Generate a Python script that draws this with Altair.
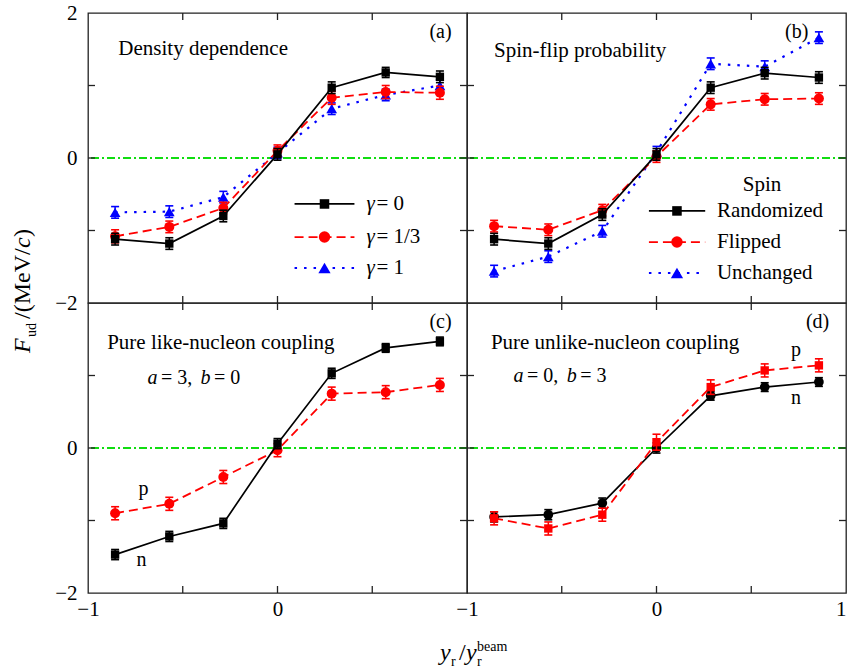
import altair as alt
import pandas as pd

FONT = "Liberation Serif"
FRAME = "#222222"
GREEN = "#11dd11"
W, H = 379, 290
TICK = 7

# ---------------- data ----------------
x_vals = [-0.857, -0.571, -0.286, 0.0, 0.286, 0.571, 0.857]

# (a) density dependence
a_gamma0 = [-1.12, -1.18, -0.80, 0.05, 0.97, 1.18, 1.12]
a_gamma0_err = [0.08, 0.08, 0.08, 0.08, 0.08, 0.07, 0.08]
a_gamma13 = [-1.08, -0.95, -0.69, 0.10, 0.83, 0.91, 0.90]
a_gamma13_err = [0.09, 0.08, 0.08, 0.08, 0.09, 0.09, 0.09]
a_gamma1 = [-0.75, -0.74, -0.54, 0.07, 0.68, 0.87, 1.00]
a_gamma1_err = [0.08, 0.08, 0.08, 0.08, 0.08, 0.08, 0.08]

# (b) spin-flip probability
b_randomized = [-1.12, -1.18, -0.78, 0.05, 0.97, 1.17, 1.11]
b_randomized_err = [0.08, 0.08, 0.08, 0.08, 0.08, 0.08, 0.08]
b_flipped = [-0.94, -0.99, -0.72, 0.02, 0.74, 0.81, 0.82]
b_flipped_err = [0.08, 0.08, 0.08, 0.08, 0.08, 0.08, 0.08]
b_unchanged = [-1.56, -1.36, -1.01, 0.08, 1.30, 1.26, 1.66]
b_unchanged_err = [0.08, 0.08, 0.08, 0.08, 0.08, 0.08, 0.08]

# (c) pure like-nucleon coupling
c_n = [-1.47, -1.22, -1.04, 0.06, 1.03, 1.38, 1.47]
c_n_err = [0.07, 0.07, 0.07, 0.07, 0.07, 0.06, 0.06]
c_p = [-0.90, -0.77, -0.40, -0.03, 0.75, 0.77, 0.87]
c_p_err = [0.09, 0.09, 0.09, 0.09, 0.09, 0.09, 0.09]

# (d) pure unlike-nucleon coupling
d_n = [-0.95, -0.92, -0.76, 0.00, 0.72, 0.84, 0.91]
d_n_err = [0.07, 0.07, 0.07, 0.07, 0.06, 0.06, 0.06]
d_p = [-0.97, -1.11, -0.92, 0.08, 0.84, 1.07, 1.14]
d_p_err = [0.09, 0.09, 0.09, 0.11, 0.10, 0.09, 0.09]

x_ticks = [-0.5, 0.0, 0.5]
y_ticks = [-1, 0, 1]

STYLES = {
    "k_sq": dict(color="#000000", dash=None, shape="square", size=70, lw=1.7),
    "k_ci": dict(color="#000000", dash=None, shape="circle", size=95, lw=1.7),
    "r_ci": dict(color="#ff0000", dash=[9, 5], shape="circle", size=100, lw=1.8),
    "r_sq": dict(color="#ff0000", dash=[9, 5], shape="square", size=70, lw=1.8),
    "b_tri": dict(color="#0000ff", dash=[2.5, 7], shape="triangle-up", size=115, lw=2.2),
}

SERIES = {
    "a": [(a_gamma1, a_gamma1_err, "b_tri"), (a_gamma13, a_gamma13_err, "r_ci"), (a_gamma0, a_gamma0_err, "k_sq")],
    "b": [(b_unchanged, b_unchanged_err, "b_tri"), (b_flipped, b_flipped_err, "r_ci"), (b_randomized, b_randomized_err, "k_sq")],
    "c": [(c_p, c_p_err, "r_ci"), (c_n, c_n_err, "k_sq")],
    "d": [(d_n, d_n_err, "k_ci"), (d_p, d_p_err, "r_sq")],
}

# annotations in data coordinates: (x, y, text, size, italic, align, baseline)
ANNOT = {
    "a": [(-0.84, 1.42, "Density dependence", 21, False, "left", "alphabetic"),
          (0.86, 1.74, "(a)", 20, False, "center", "middle")],
    "b": [(-0.857, 1.39, "Spin-flip probability", 21, False, "left", "alphabetic"),
          (0.74, 1.74, "(b)", 20, False, "center", "middle"),
          (0.557, -0.37, "Spin", 21, False, "center", "middle")],
    "c": [(-0.899, 1.37, "Pure like-nucleon coupling", 21, False, "left", "alphabetic"),
          (0.86, 1.74, "(c)", 20, False, "center", "middle"),
          (-0.686, 0.88, "a", 20, True, "left", "alphabetic"),
          (-0.615, 0.88, "= 3,", 20, False, "left", "alphabetic"),
          (-0.406, 0.88, "b", 20, True, "left", "alphabetic"),
          (-0.335, 0.88, "= 0", 20, False, "left", "alphabetic"),
          (-0.707, -0.65, "p", 20, False, "center", "alphabetic"),
          (-0.718, -1.63, "n", 20, False, "center", "alphabetic")],
    "d": [(-0.874, 1.37, "Pure unlike-nucleon coupling", 21, False, "left", "alphabetic"),
          (0.85, 1.74, "(d)", 20, False, "center", "middle"),
          (-0.754, 0.906, "a", 20, True, "left", "alphabetic"),
          (-0.683, 0.906, "= 0,", 20, False, "left", "alphabetic"),
          (-0.474, 0.906, "b", 20, True, "left", "alphabetic"),
          (-0.403, 0.906, "= 3", 20, False, "left", "alphabetic"),
          (0.736, 1.27, "p", 20, False, "center", "alphabetic"),
          (0.736, 0.61, "n", 20, False, "center", "alphabetic")],
}

# legends: rows (y, style, italic part, regular part)
LEGEND = {
    "a": dict(x1=0.09, x2=0.406, xm=0.248, xt1=0.47, xt2=0.522,
              rows=[(-0.634, "k_sq", "γ", "= 0"), (-1.09, "r_ci", "γ", "= 1/3"), (-1.517, "b_tri", "γ", "= 1")]),
    "b": dict(x1=-0.04, x2=0.257, xm=0.108, xt1=None, xt2=0.319,
              rows=[(-0.73, "k_sq", None, "Randomized"), (-1.159, "r_ci", None, "Flipped"), (-1.586, "b_tri", None, "Unchanged")]),
}

XS = alt.Scale(domain=[-1, 1], nice=False, zero=False)
YS = alt.Scale(domain=[-2, 2], nice=False, zero=False)
MINUS = "datum.value < 0 ? '\u2212' + (-datum.value) : '' + datum.value"


def y_axis(values):
    return alt.Axis(values=values, title=None, ticks=False, domain=False, grid=False,
                    labelFont=FONT, labelFontSize=21, labelColor="black", labelPadding=11,
                    labelExpr=MINUS, labelOverlap=False, labelFlush=False)


def x_axis(values, right_flush=False):
    kw = {}
    if right_flush:
        kw["labelAlign"] = {"condition": {"test": "datum.value === 1", "value": "right"}, "value": "center"}
    return alt.Axis(values=values, title=None, ticks=False, domain=False, grid=False,
                    labelFont=FONT, labelFontSize=21, labelColor="black", labelPadding=5,
                    labelExpr=MINUS, labelOverlap=False, labelFlush=False, **kw)


def text_piece(x, y, text, size, italic, align, baseline, xaxis, yaxis):
    df = pd.DataFrame({"x": [x], "y": [y], "t": [text]})
    kw = dict(font=FONT, fontSize=size, align=align, baseline=baseline, color="black")
    if italic:
        kw["fontStyle"] = "italic"
    return alt.Chart(df).mark_text(**kw).encode(
        x=alt.X("x:Q", scale=XS, axis=xaxis), y=alt.Y("y:Q", scale=YS, axis=yaxis), text="t:N")


def px_text(px, py, text, size, italic=False, angle=0):
    df = pd.DataFrame({"t": [text]})
    kw = dict(font=FONT, fontSize=size, align="left", baseline="alphabetic", color="black")
    if italic:
        kw["fontStyle"] = "italic"
    if angle:
        kw["angle"] = angle
    return alt.Chart(df).mark_text(**kw).encode(x=alt.value(px), y=alt.value(py), text="t:N")


def series_layers(yv, err, style, xaxis, yaxis):
    st = STYLES[style]
    df = pd.DataFrame({"x": x_vals, "y": yv, "lo": [v - e for v, e in zip(yv, err)],
                       "hi": [v + e for v, e in zip(yv, err)]})
    base = alt.Chart(df)
    X = alt.X("x:Q", scale=XS, axis=xaxis)
    lkw = dict(color=st["color"], strokeWidth=st["lw"])
    if st["dash"]:
        lkw["strokeDash"] = st["dash"]
    line = base.mark_line(**lkw).encode(x=X, y=alt.Y("y:Q", scale=YS, axis=yaxis))
    bar = base.mark_rule(color=st["color"], strokeWidth=1.5).encode(
        x=X, y=alt.Y("lo:Q", scale=YS, axis=yaxis), y2="hi:Q")
    cap_lo = base.mark_tick(color=st["color"], orient="horizontal", size=8, thickness=1.6, opacity=1).encode(
        x=X, y=alt.Y("lo:Q", scale=YS, axis=yaxis))
    cap_hi = base.mark_tick(color=st["color"], orient="horizontal", size=8, thickness=1.6, opacity=1).encode(
        x=X, y=alt.Y("hi:Q", scale=YS, axis=yaxis))
    pts = base.mark_point(shape=st["shape"], filled=True, size=st["size"], color=st["color"], opacity=1).encode(
        x=X, y=alt.Y("y:Q", scale=YS, axis=yaxis))
    return [line, bar, cap_lo, cap_hi, pts]


def legend_layers(spec, xaxis, yaxis):
    out = []
    for (yy, style, ital, reg) in spec["rows"]:
        st = STYLES[style]
        df = pd.DataFrame({"x1": [spec["x1"]], "x2": [spec["x2"]], "xm": [spec["xm"]], "y": [yy]})
        lkw = dict(color=st["color"], strokeWidth=st["lw"])
        if st["dash"]:
            lkw["strokeDash"] = st["dash"]
        out.append(alt.Chart(df).mark_rule(**lkw).encode(
            x=alt.X("x1:Q", scale=XS, axis=xaxis), x2="x2:Q", y=alt.Y("y:Q", scale=YS, axis=yaxis)))
        out.append(alt.Chart(df).mark_point(shape=st["shape"], filled=True, size=st["size"] * 1.3,
                                            color=st["color"], opacity=1).encode(
            x=alt.X("xm:Q", scale=XS, axis=xaxis), y=alt.Y("y:Q", scale=YS, axis=yaxis)))
        if ital:
            out.append(text_piece(spec["xt1"], yy, ital, 21, True, "left", "middle", xaxis, yaxis))
        out.append(text_piece(spec["xt2"], yy, reg, 21, False, "left", "middle", xaxis, yaxis))
    return out


def panel(pid, xaxis, yaxis, extra=()):
    layers = []
    zero = alt.Chart(pd.DataFrame({"z": [0]})).mark_rule(
        color=GREEN, strokeWidth=2, strokeDash=[8, 3, 2, 3]).encode(y=alt.Y("z:Q", scale=YS, axis=yaxis))
    layers.append(zero)
    tx = alt.Chart(pd.DataFrame({"t": x_ticks}))
    ty = alt.Chart(pd.DataFrame({"t": y_ticks}))
    TX = alt.X("t:Q", scale=XS, axis=xaxis)
    TY = alt.Y("t:Q", scale=YS, axis=yaxis)
    layers.append(tx.mark_rule(color=FRAME, strokeWidth=1.3).encode(x=TX, y=alt.value(0), y2=alt.value(TICK)))
    layers.append(tx.mark_rule(color=FRAME, strokeWidth=1.3).encode(x=TX, y=alt.value(H), y2=alt.value(H - TICK)))
    layers.append(ty.mark_rule(color=FRAME, strokeWidth=1.3).encode(y=TY, x=alt.value(0), x2=alt.value(TICK)))
    layers.append(ty.mark_rule(color=FRAME, strokeWidth=1.3).encode(y=TY, x=alt.value(W - TICK), x2=alt.value(W)))
    for (yv, err, style) in SERIES[pid]:
        layers += series_layers(yv, err, style, xaxis, yaxis)
    for a in ANNOT[pid]:
        layers.append(text_piece(*a, xaxis, yaxis))
    if pid in LEGEND:
        layers += legend_layers(LEGEND[pid], xaxis, yaxis)
    layers += list(extra)
    return alt.layer(*layers).properties(width=W, height=H)


# y-axis title pieces (rotated), relative to panel (a) origin
ytitle = [
    px_text(-58, 340, "F", 24, italic=True, angle=270),
    px_text(-52, 324, "ud", 14, angle=270),
    px_text(-58, 306, "/(MeV/", 24, angle=270),
    px_text(-58, 235, "c", 24, italic=True, angle=270),
    px_text(-58, 224, ")", 24, angle=270),
]
# x-axis title pieces, relative to panel (c) origin
xtitle = [
    px_text(352, 357, "y", 24, italic=True),
    px_text(363, 363, "r", 14),
    px_text(371, 357, "/", 24),
    px_text(378, 357, "y", 24, italic=True),
    px_text(389, 363, "r", 14),
    px_text(389, 348, "beam", 14),
]

A = panel("a", None, y_axis([-2, 0, 2]), ytitle)
B = panel("b", None, None)
C = panel("c", x_axis([-1, 0]), y_axis([-2, 0]), xtitle)
D = panel("d", x_axis([-1, 0, 1], right_flush=True), None)

chart = alt.concat(A, B, C, D, columns=2, spacing=0, bounds="flush").properties(
    padding={"left": 10, "top": 1, "right": 0, "bottom": 0}
).configure_view(stroke=FRAME, strokeWidth=1.3)

chart.save("out.html", embed_options={"renderer": "svg", "actions": False})
